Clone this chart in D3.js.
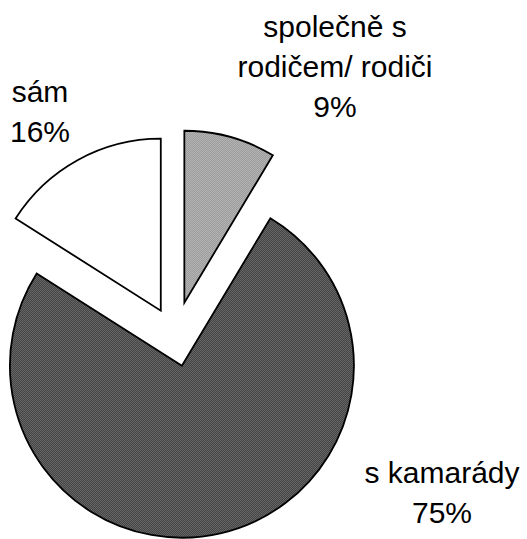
<!DOCTYPE html>
<html>
<head>
<meta charset="utf-8">
<script src="https://cdn.jsdelivr.net/npm/d3@7"></script>
<style>
  body { margin: 0; background: #fff; }
  text { font-family: "Liberation Sans", Arial, sans-serif; fill: #000; }
</style>
</head>
<body>
<div id="chart"></div>
<script>
// data
const categories = ["společně s rodičem/ rodiči", "s kamarády", "sám"];
const values = [8.6, 75.4, 16.0];
const labelLines = [["společně s", "rodičem/ rodiči"], ["s kamarády"], ["sám"]];

// layout
const W = 527, H = 539;
const cx = 175, cy = 336.5, radius = 172;
const explode = [35, 30, 29.5];
const fills = ["url(#lightDots)", "url(#darkDots)", "#fff"];
const labelPos = [[335, 37], [442, 483], [40, 102]];
const lineH = 40;

const svg = d3.select("#chart").append("svg")
  .attr("width", W).attr("height", H);

// dithered fills like the scan
const defs = svg.append("defs");
function checker(id, a, b){
  const p = defs.append("pattern").attr("id", id)
    .attr("width", 2).attr("height", 2)
    .attr("patternUnits", "userSpaceOnUse");
  p.append("rect").attr("width", 2).attr("height", 2).attr("fill", a);
  p.append("rect").attr("width", 1).attr("height", 1).attr("fill", b);
  p.append("rect").attr("x", 1).attr("y", 1).attr("width", 1).attr("height", 1).attr("fill", b);
}
checker("lightDots", "#e6e6e6", "#6a6a6a");
checker("darkDots", "#1e1e1e", "#8c8c8c");

const pie = d3.pie().sort(null).value(d => d)(values);
const arc = d3.arc().innerRadius(0).outerRadius(radius);

const total = d3.sum(values);

const g = svg.append("g").attr("transform", "translate(" + cx + "," + cy + ")");

g.selectAll("path.slice")
  .data(pie)
  .enter().append("path")
    .attr("class", "slice")
    .attr("transform", (d, i) => {
      const mid = (d.startAngle + d.endAngle) / 2;
      return "translate(" + (Math.sin(mid) * explode[i]) + "," + (-Math.cos(mid) * explode[i]) + ")";
    })
    .attr("d", arc)
    .attr("fill", (d, i) => fills[i])
    .attr("stroke", "#000")
    .attr("stroke-width", 1.8)
    .attr("stroke-linejoin", "miter");

// labels: name lines + percent
const labels = svg.selectAll("text.lbl")
  .data(categories)
  .enter().append("text")
    .attr("class", "lbl")
    .attr("text-anchor", "middle")
    .attr("font-size", 30)
    .attr("x", (d, i) => labelPos[i][0])
    .attr("y", (d, i) => labelPos[i][1]);

labels.each(function(d, i){
  const t = d3.select(this);
  const lines = labelLines[i].concat([Math.round(values[i] / total * 100) + "%"]);
  lines.forEach((ln, k) => {
    t.append("tspan")
      .attr("x", labelPos[i][0])
      .attr("dy", k === 0 ? 0 : lineH)
      .text(ln);
  });
});
</script>
</body>
</html>
